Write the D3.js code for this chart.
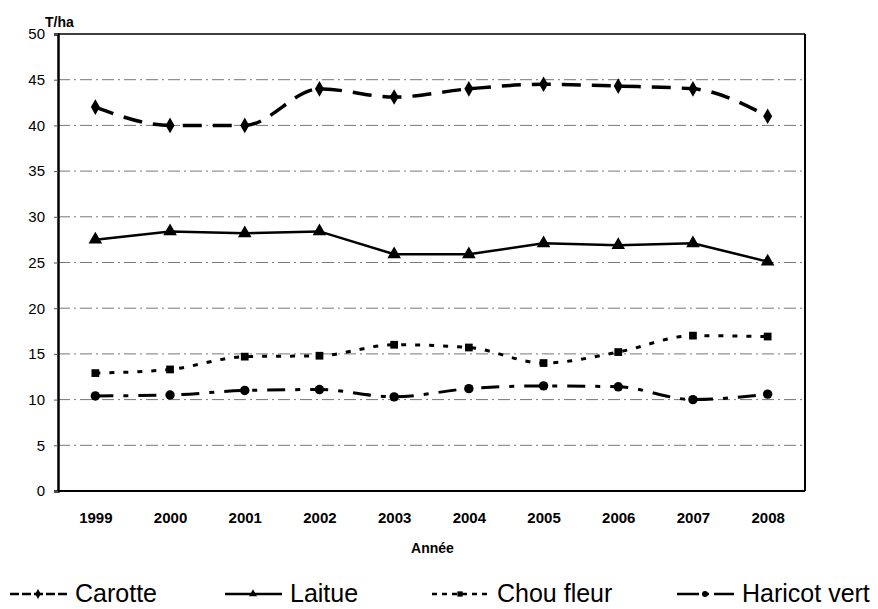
<!DOCTYPE html>
<html>
<head>
<meta charset="utf-8">
<script src="https://cdn.jsdelivr.net/npm/d3@7"></script>
<style>
  body { margin: 0; background: #fff; }
  svg { display: block; font-family: "Liberation Sans", Arial, sans-serif; }
</style>
</head>
<body>
<svg width="878" height="609"></svg>
<script>
// values (T/ha)
var years = ['1999', '2000', '2001', '2002', '2003', '2004', '2005', '2006', '2007', '2008']
var carotte = [42, 40, 40, 44, 43.1, 44, 44.5, 44.3, 44, 41]
var laitue = [27.5, 28.4, 28.2, 28.4, 25.9, 25.9, 27.1, 26.9, 27.1, 25.1]
var chouFleur = [12.9, 13.3, 14.7, 14.8, 16, 15.7, 14, 15.2, 17, 16.9]
var haricotVert = [10.4, 10.5, 11, 11.1, 10.3, 11.2, 11.5, 11.4, 10, 10.6]
var yTicks = [0, 5, 10, 15, 20, 25, 30, 35, 40, 45, 50]
var seriesNames = ['Carotte', 'Laitue', 'Chou fleur', 'Haricot vert']

var svg = d3.select('svg')
var width = 878
var height = 609
var margin = {left: 58, right: 73, top: 34, bottom: 118}

var x = d3.scalePoint()
  .domain(years)
  .range([margin.left, width - margin.right])
  .padding(0.5)
var y = d3.scaleLinear()
  .domain([0, 50])
  .range([height - margin.bottom, margin.top])

var series = [
  {name: seriesNames[0], values: carotte, dash: '19,11', width: 3.5, marker: 'diamond', curve: d3.curveMonotoneX},
  {name: seriesNames[1], values: laitue, dash: null, width: 2.5, marker: 'triangle', curve: d3.curveLinear},
  {name: seriesNames[2], values: chouFleur, dash: '5,9', width: 3, marker: 'square', curve: d3.curveMonotoneX},
  {name: seriesNames[3], values: haricotVert, dash: '18,10,5,10', width: 3, marker: 'circle', curve: d3.curveMonotoneX}
]

var symbols = {
  diamond: d3.symbolDiamond,
  triangle: d3.symbolTriangle,
  square: d3.symbolSquare,
  circle: d3.symbolCircle
}
var markerSize = {diamond: 70, triangle: 80, square: 60, circle: 70}

// gridlines (dash-dot grey, like the scan)
svg.append('g')
  .selectAll('line')
  .data(yTicks.filter(d => d > 0 && d < 50))
  .enter()
  .append('line')
    .attr('x1', margin.left)
    .attr('x2', width - margin.right)
    .attr('y1', d => y(d))
    .attr('y2', d => y(d))
    .attr('stroke', '#777')
    .attr('stroke-width', 1)
    .attr('stroke-dasharray', '12,4,2,4')

// frame: top and right thin, left and bottom axis thicker
svg.append('line')
  .attr('x1', margin.left).attr('x2', width - margin.right)
  .attr('y1', y(50)).attr('y2', y(50))
  .attr('stroke', '#000').attr('stroke-width', 1.5)
svg.append('line')
  .attr('x1', width - margin.right).attr('x2', width - margin.right)
  .attr('y1', y(50)).attr('y2', y(0))
  .attr('stroke', '#000').attr('stroke-width', 2)

var yAxis = g => g
  .attr('transform', `translate(${margin.left},0)`)
  .call(d3.axisLeft(y).tickValues(yTicks).tickSize(4).tickPadding(9))
  .call(g => g.select('.domain').attr('stroke-width', 2.5))
  .call(g => g.selectAll('.tick line').attr('stroke', '#555'))
  .call(g => g.selectAll('.tick text')
    .attr('font-size', 15)
    .attr('font-family', '"Liberation Sans", Arial, sans-serif')
    .attr('fill', '#000'))

var xAxis = g => g
  .attr('transform', `translate(0,${y(0)})`)
  .call(d3.axisBottom(x).tickSize(0).tickPadding(21).tickSizeOuter(0))
  .call(g => g.select('.domain').attr('stroke-width', 2).attr('d', `M${margin.left},0H${width - margin.right}`))
  .call(g => g.selectAll('.tick text')
    .attr('font-size', 15)
    .attr('font-weight', 'bold')
    .attr('font-family', '"Liberation Sans", Arial, sans-serif')
    .attr('fill', '#000'))

svg.append('g').call(yAxis)
svg.append('g').call(xAxis)

svg.append('text')
  .attr('x', 45)
  .attr('y', 27)
  .attr('font-size', 14)
  .attr('font-weight', 'bold')
  .text('T/ha')

svg.append('text')
  .attr('x', (margin.left + width - margin.right) / 2 + 1)
  .attr('y', 553)
  .attr('text-anchor', 'middle')
  .attr('font-size', 14)
  .attr('font-weight', 'bold')
  .text('Année')

// series lines
var line = d3.line()
  .x((d, i) => x(years[i]))
  .y(d => y(d))

svg.append('g')
  .attr('fill', 'none')
  .attr('stroke', '#000')
  .selectAll('path')
  .data(series)
  .enter()
  .append('path')
    .attr('d', d => line.curve(d.curve)(d.values))
    .attr('stroke-width', d => d.width)
    .attr('stroke-dasharray', d => d.dash)

// markers
series.forEach(s => {
  svg.append('g')
    .selectAll('path')
    .data(s.values)
    .enter()
    .append('path')
      .attr('transform', (d, i) => `translate(${x(years[i])},${y(d)})`)
      .attr('d', d3.symbol().type(symbols[s.marker]).size(markerSize[s.marker]))
      .attr('fill', '#000')
})

// legend
var legendX = [10, 225, 432, 677]
var legendDash = ['9,3', null, '5,5', '22,5,5,5']
var legend = svg.append('g')
  .selectAll('g')
  .data(series)
  .enter()
  .append('g')
    .attr('transform', (d, i) => `translate(${legendX[i]},594)`)

legend.append('line')
  .attr('x1', 0)
  .attr('x2', 57)
  .attr('stroke', '#000')
  .attr('stroke-width', 2.5)
  .attr('stroke-dasharray', (d, i) => legendDash[i])

legend.append('path')
  .attr('transform', 'translate(28,0)')
  .attr('d', d => d3.symbol().type(symbols[d.marker]).size(28)())
  .attr('fill', '#000')

legend.append('text')
  .attr('x', 65)
  .attr('y', 8)
  .attr('font-size', 25)
  .text(d => d.name)
</script>
</body>
</html>
